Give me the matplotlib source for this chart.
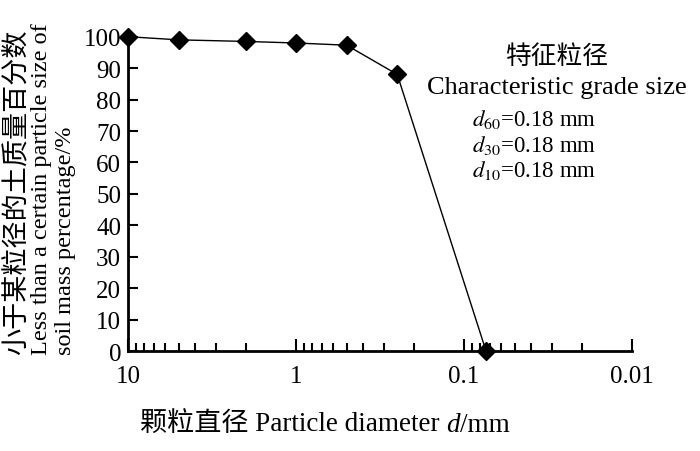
import matplotlib
matplotlib.use('Agg')

from matplotlib import pyplot as plt
from matplotlib.ticker import LogLocator, NullFormatter, FixedLocator, FixedFormatter

# Grain-size distribution
diameters = [10, 5, 2, 1, 0.5, 0.25, 0.074]
passing = [100, 99, 98.5, 98, 97.3, 88, 0]

x_ticks = [10, 1, 0.1, 0.01]
x_tick_labels = ['10', '1', '0.1', '0.01']
y_ticks = list(range(0, 101, 10))

d_names = ['60', '30', '10']
d_values = [0.18, 0.18, 0.18]

plt.rcParams['font.family'] = ['Liberation Serif', 'Noto Sans CJK SC']
plt.rcParams['mathtext.fontset'] = 'stix'
plt.rcParams['font.size'] = 18

fig = plt.figure(figsize = (7, 4.52), dpi = 100)
ax = fig.add_axes([0.183, 0.221, 0.72, 0.706])

ax.plot(diameters, passing, 'k-', linewidth = 1.0, zorder = 2)
ax.plot(diameters, passing, linestyle = 'none', marker = 'D', markersize = 9,
        color = 'black', clip_on = False, zorder = 3)

ax.set_xscale('log')
ax.set_xlim(10, 0.01)  # coarse on the left
ax.set_ylim(0, 101.5)

ax.xaxis.set_major_locator(FixedLocator(x_ticks))
ax.xaxis.set_major_formatter(FixedFormatter(x_tick_labels))
ax.xaxis.set_minor_locator(LogLocator(base = 10, subs = range(2, 10)))
ax.xaxis.set_minor_formatter(NullFormatter())
ax.set_yticks(y_ticks)

ax.spines['top'].set_visible(False)
ax.spines['right'].set_visible(False)
ax.spines['left'].set_linewidth(2)
ax.spines['bottom'].set_linewidth(2)

ax.tick_params(axis = 'x', which = 'major', direction = 'in', length = 9, width = 1.5, pad = 10)
ax.tick_params(axis = 'x', which = 'minor', direction = 'in', length = 6, width = 1.5)
ax.tick_params(axis = 'y', which = 'major', direction = 'in', length = 7, width = 1.5, pad = 5)

# x label: built from pieces so the Chinese falls back and d stays italic
xl1 = fig.text(0.2, 0.03, '颗粒直径 Particle diameter ', fontsize = 19.5,
               ha = 'left', va = 'bottom')
xl2 = ax.annotate('d', xy = (1, 0), xycoords = xl1, fontsize = 19.5, style = 'italic',
                  ha = 'left', va = 'bottom', annotation_clip = False)
ax.annotate('/mm', xy = (1, 0), xycoords = xl2, fontsize = 19.5,
            ha = 'left', va = 'bottom', annotation_clip = False)

# y label: three rotated lines, bottoms aligned
ylabel_lines = ['小于某粒径的土质量百分数',
                'Less than a certain particle size of',
                'soil mass percentage/%']
ylabel_x = [18, 42, 65]
ylabel_size = [19.5, 17.5, 17.5]
for line, xpix, size in zip(ylabel_lines, ylabel_x, ylabel_size):
    fig.text(xpix / 700, (452 - 355) / 452, line, fontsize = size, rotation = 90,
             ha = 'center', va = 'bottom')

ax.text(0.851, 0.925, '特征粒径', transform = ax.transAxes, fontsize = 18.5,
        ha = 'center', va = 'center')
ax.text(0.851, 0.828, 'Characteristic grade size', transform = ax.transAxes,
        fontsize = 19, ha = 'center', va = 'center')
for i, (name, val) in enumerate(zip(d_names, d_values)):
    ax.text(0.683, 0.728 - i * 0.08, f'$d_{{{name}}}$={val} mm',
            transform = ax.transAxes, fontsize = 16.5, ha = 'left', va = 'center')

fig.savefig('out.png', dpi = 100)
